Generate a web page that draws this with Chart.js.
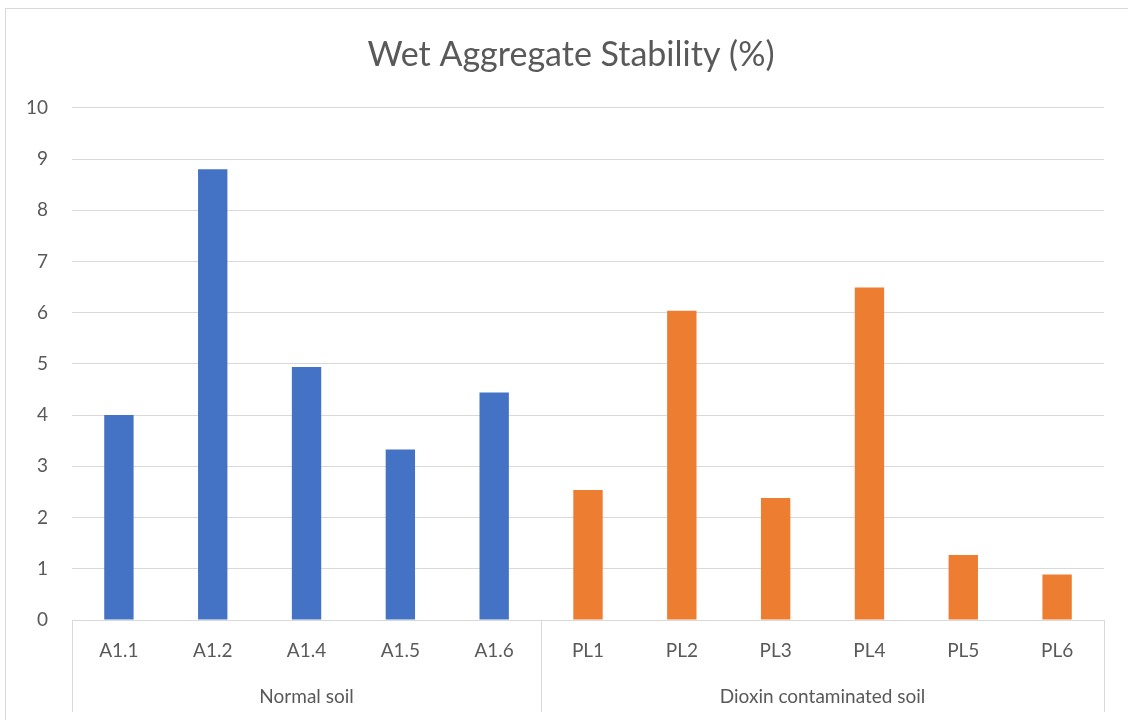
<!DOCTYPE html>
<html>
<head>
<meta charset="utf-8">
<script src="https://cdn.jsdelivr.net/npm/chart.js@4"></script>
<style>
  html, body { margin: 0; padding: 0; background: #ffffff; overflow: hidden; }
  #frame { position: absolute; left: 5px; top: 8px; width: 1140px; height: 730px; border: 1px solid #d9d9d9; }
  #wrap { position: absolute; left: 0; top: 0; width: 1128px; height: 720px; }
</style>
</head>
<body>
<div id="frame"></div>
<div id="wrap"><canvas id="c" width="1128" height="720"></canvas></div>
<script>
// Sample names, grouped by soil type
const normalSamples = ['A1.1', 'A1.2', 'A1.4', 'A1.5', 'A1.6'];
const dioxinSamples = ['PL1', 'PL2', 'PL3', 'PL4', 'PL5', 'PL6'];
const groupNames = ['Normal soil', 'Dioxin contaminated soil'];

// Wet aggregate stability (%) per sample
const normalValues = [4.00, 8.80, 4.94, 3.33, 4.44];
const dioxinValues = [2.54, 6.04, 2.38, 6.49, 1.27, 0.89];

// Y axis ticks
const yTicks = [0, 1, 2, 3, 4, 5, 6, 7, 8, 9, 10];

const BLUE = '#4472C4';
const ORANGE = '#ED7D31';
const TEXT = '#595959';
const GRID = '#d9d9d9';
const FONT = 'Lato, "Open Sans", sans-serif';

const labels = normalSamples.concat(dioxinSamples);
const values = normalValues.concat(dioxinValues);
const colors = normalSamples.map(() => BLUE).concat(dioxinSamples.map(() => ORANGE));
const groupSizes = [normalSamples.length, dioxinSamples.length];

// Centre the title on the whole framed card rather than on the padded box
const titleCentre = {
  id: 'titleCentre',
  afterLayout(chart) {
    const t = chart.titleBlock;
    if (t) { t.left = 0; t.right = 1142; }
  }
};

// Draws the second-level category axis: separators and group names
const groupAxis = {
  id: 'groupAxis',
  afterDraw(chart) {
    const x = chart.scales.x;
    const area = chart.chartArea;
    const ctx = chart.ctx;
    const bottom = 712;
    const edges = [area.left];
    let idx = 0;
    groupSizes.forEach((n, g) => {
      idx += n;
      if (g < groupSizes.length - 1) {
        edges.push((x.getPixelForValue(idx - 1) + x.getPixelForValue(idx)) / 2);
      }
    });
    edges.push(area.right);
    ctx.save();
    ctx.strokeStyle = GRID;
    ctx.lineWidth = 1;
    edges.forEach(e => {
      const px = Math.round(e) + 0.5;
      ctx.beginPath();
      ctx.moveTo(px, area.bottom);
      ctx.lineTo(px, bottom);
      ctx.stroke();
    });
    ctx.fillStyle = TEXT;
    ctx.font = '19px ' + FONT;
    ctx.textAlign = 'center';
    ctx.textBaseline = 'middle';
    groupNames.forEach((name, g) => {
      ctx.fillText(name, (edges[g] + edges[g + 1]) / 2, 697);
    });
    ctx.restore();
  }
};

new Chart(document.getElementById('c'), {
  type: 'bar',
  data: {
    labels: labels,
    datasets: [{
      label: 'Wet Aggregate Stability (%)',
      data: values,
      backgroundColor: colors,
      borderWidth: 0,
      categoryPercentage: 1.0,
      barPercentage: 0.313
    }]
  },
  options: {
    responsive: false,
    animation: false,
    devicePixelRatio: 1,
    layout: { padding: { top: 0, right: 24, bottom: 0, left: 0 } },
    plugins: {
      legend: { display: false },
      tooltip: { enabled: false },
      title: {
        display: true,
        text: 'Wet Aggregate Stability (%)',
        color: TEXT,
        font: { family: FONT, size: 34, weight: 'normal' },
        padding: { top: 35, bottom: 32 }
      }
    },
    scales: {
      x: {
        grid: { display: false, drawTicks: false },
        border: { display: true, color: GRID, width: 1 },
        ticks: {
          color: TEXT,
          font: { family: FONT, size: 19 },
          padding: 19,
          maxRotation: 0,
          autoSkip: false
        },
        afterFit(scale) { scale.height = 100; }
      },
      y: {
        min: 0,
        max: 10,
        afterBuildTicks(scale) { scale.ticks = yTicks.map(v => ({ value: v })); },
        grid: { color: GRID, lineWidth: 1, drawTicks: false },
        border: { display: false },
        ticks: {
          color: TEXT,
          font: { family: FONT, size: 19 },
          padding: 24
        },
        afterFit(scale) { scale.width = 72; }
      }
    }
  },
  plugins: [titleCentre, groupAxis]
});
</script>
</body>
</html>
